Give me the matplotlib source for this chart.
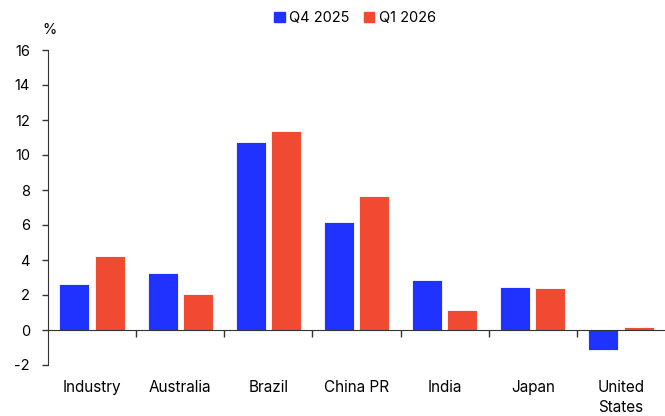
import numpy as np
import matplotlib
matplotlib.use("Agg")
import matplotlib.pyplot as plt
from matplotlib.patches import Patch

plt.rcParams['font.family'] = ['Inter', 'DejaVu Sans']
plt.rcParams['axes.unicode_minus'] = False

# growth rates, %
categories = ['Industry', 'Australia', 'Brazil', 'China PR', 'India', 'Japan', 'United\nStates']
q4_2025 = [2.65, 3.25, 10.75, 6.2, 2.85, 2.48, -1.15]
q1_2026 = [4.25, 2.05, 11.4, 7.65, 1.12, 2.4, 0.17]
series_names = ['Q4 2025', 'Q1 2026']

blue = '#1f32ff'
red = '#f04a33'
axis_col = '#333333'
fs = 10.5

fig = plt.figure(figsize=(6.65, 4.16), dpi=100)
ax = fig.add_axes([48 / 665, 1 - 365 / 416, 1 - 48 / 665, 315 / 416])

x = np.arange(len(categories))
w = 0.34
ax.bar(x - 0.2, q4_2025, width=w, color=blue, edgecolor='white', linewidth=0.6)
ax.bar(x + 0.2, q1_2026, width=w, color=red, edgecolor='white', linewidth=0.6)

ax.set_xlim(-0.5, len(categories) - 0.5)
ax.set_ylim(-2, 16)
ax.set_yticks(np.arange(-2, 17, 2))
ax.tick_params(axis='y', length=4, width=1, color=axis_col, labelsize=fs, pad=9)

# zero line doubles as the category axis, with separator ticks between groups
ax.spines['bottom'].set_position(('data', 0))
ax.spines['bottom'].set_color(axis_col)
ax.spines['left'].set_color(axis_col)
ax.spines['top'].set_visible(False)
ax.spines['right'].set_visible(False)
ax.set_xticks(x[:-1] + 0.5)
ax.set_xticklabels([])
ax.tick_params(axis='x', length=5, width=1, color=axis_col, direction='out')

for xi, name in zip(x, categories):
    ax.text(xi, -0.048, name, transform=ax.get_xaxis_transform(),
            ha='center', va='top', fontsize=11, linespacing=1.4)

ax.text(0.003, 1.04, '%', transform=ax.transAxes, ha='center', va='bottom', fontsize=fs)

handles = [Patch(color=blue), Patch(color=red)]
fig.legend(handles, series_names, loc='center', bbox_to_anchor=(355 / 665, 1 - 18 / 416),
           ncol=2, frameon=False, fontsize=fs, handlelength=0.7, handleheight=0.7,
           handletextpad=0.3, columnspacing=1.0)

fig.savefig('out.png', dpi=100)
